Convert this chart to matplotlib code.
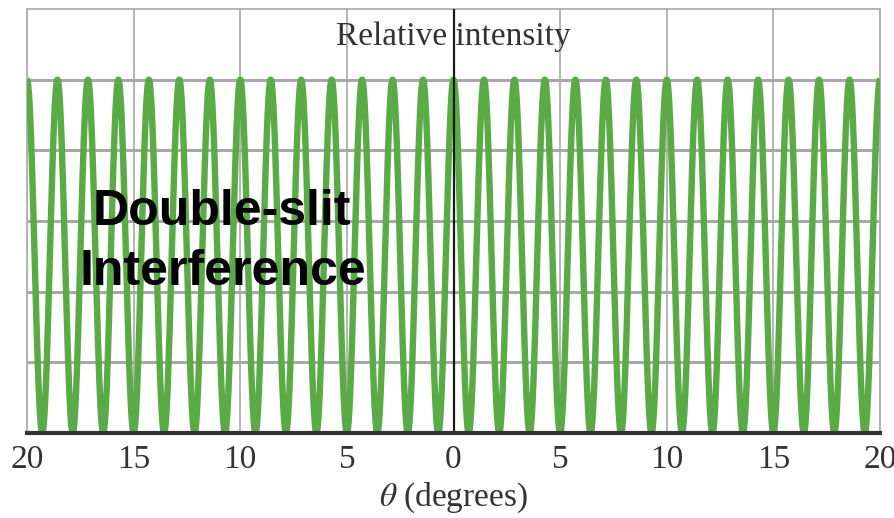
import numpy as np
import matplotlib.pyplot as plt

plt.rcParams["mathtext.fontset"] = "stix"

# chart data
theta_min, theta_max = -20.0, 20.0      # degrees
fringes_per_side = 14                    # bright fringes from 0 to 20 degrees
peak_intensity = 1.0
tick_values = [-20, -15, -10, -5, 0, 5, 10, 15, 20]
tick_labels = ["20", "15", "10", "5", "0", "5", "10", "15", "20"]
y_grid = [0.2, 0.4, 0.6, 0.8, 1.0]

# double-slit intensity, I = I0 cos^2(pi * theta / fringe spacing)
fringe_spacing = (theta_max - 0) / fringes_per_side
theta = np.linspace(theta_min, theta_max, 4000)
intensity = peak_intensity * np.cos(np.pi * theta / fringe_spacing) ** 2

fig = plt.figure(figsize=(8.94, 5.18), dpi=100)
ax = fig.add_axes([27 / 894, (518 - 433) / 518, (880 - 27) / 894, (433 - 9) / 518])

grid_col = "#a8a8a8"
for x in tick_values:
    ax.axvline(x, color=grid_col, lw=1.2, zorder=1)
for y in y_grid:
    ax.axhline(y, color=grid_col, lw=2.2, zorder=1)

ax.plot(theta, intensity, color="#5aab45", lw=4.6, zorder=3, solid_capstyle="butt")
ax.axvline(0, color="#1a1a1a", lw=1.6, zorder=4)

ax.set_xlim(theta_min, theta_max)
ax.set_ylim(0, 1.2)
ax.set_xticks(tick_values)
ax.set_xticklabels(tick_labels, family="Liberation Serif", fontsize=24, color="#333333")
ax.set_yticks([])
ax.tick_params(axis="x", length=0, pad=8)

for side in ["left", "right", "top"]:
    ax.spines[side].set_color("#b0b0b0")
    ax.spines[side].set_linewidth(1.3)
ax.spines["bottom"].set_color("#333333")
ax.spines["bottom"].set_linewidth(3)
ax.spines["bottom"].set_zorder(5)

ax.set_xlabel(r"$\theta$ (degrees)", family="Liberation Serif", fontsize=24,
              color="#333333", labelpad=4)
ax.text(0.5, 0.97, "Relative intensity", transform=ax.transAxes, ha="center",
        va="top", family="Liberation Serif", fontsize=24, color="#333333", zorder=6)

label_font = dict(ha="center", va="baseline", family="Liberation Sans",
                  fontweight="bold", fontsize=36, color="black", zorder=7,
                  transform=fig.transFigure)
ax.text(222 / 894, 1 - 225 / 518, "Double-slit", **label_font)
ax.text(223 / 894, 1 - 285 / 518, "Interference", **label_font)

fig.savefig("out.png", dpi=100)
